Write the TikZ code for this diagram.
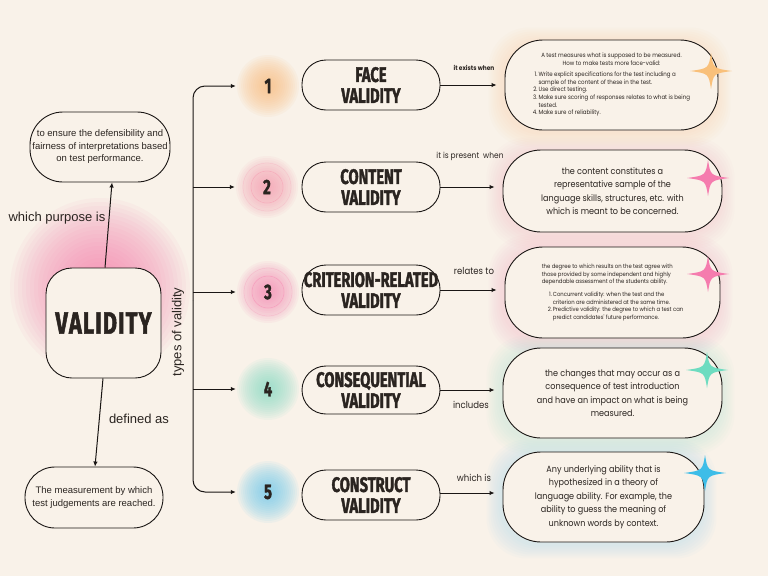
\documentclass[tikz,border=0pt]{standalone}
\usepackage{fontspec}
\setmainfont{Liberation Sans}
\newfontfamily\hfont[FakeStretch=0.7, BoldFeatures={FakeBold=1.6}]{Fira Sans}
\newfontfamily\rfont[FakeStretch=0.9]{Poppins}
\usetikzlibrary{arrows.meta}
\definecolor{bg}{HTML}{F9F2E9}
\definecolor{ink}{HTML}{1A1614}
\definecolor{txt}{HTML}{2A2420}
\definecolor{gor}{HTML}{F8BE7E}
\definecolor{gpk}{HTML}{F59AB0}
\definecolor{gpk3}{HTML}{F588B4}
\definecolor{gte}{HTML}{86DCC6}
\definecolor{gbl}{HTML}{6CCBEA}
\definecolor{gval}{HTML}{F57FAE}
\definecolor{sor}{HTML}{F9C07A}
\definecolor{spk}{HTML}{F57CAE}
\definecolor{ste}{HTML}{6EDCC0}
\definecolor{sbl}{HTML}{3DBDE8}
\pgfdeclarelayer{base}
\pgfdeclarelayer{glow}
\pgfsetlayers{base,glow,main}
\tikzset{
  box/.style={draw=ink, line width=0.9pt, fill=bg, align=center, inner sep=0pt, text=txt},
  lbox/.style={box, rounded corners=33pt, font=\fontsize{9.5}{12.5}\selectfont},
  tbox/.style={box, rounded corners=24pt, minimum width=138pt, minimum height=50pt,
    font=\hfont\bfseries\fontsize{21}{21}\selectfont},
  rbox/.style={box, rounded corners=38pt, font=\rfont\fontsize{9}{13.5}\selectfont},
  num/.style={circle, minimum size=64pt, inner sep=0pt, text=txt,
    font=\hfont\bfseries\fontsize{21}{21}\selectfont},
  lab/.style={text=txt, font=\fontsize{13}{13}\selectfont},
  rlab/.style={text=txt, font=\rfont\fontsize{9.5}{10}\selectfont},
  arr/.style={draw=ink, line width=1pt, -{Latex[length=5pt,width=4.5pt]}},
  sparkle/.pic={\fill (0,-18) .. controls (2.5,-2.5) .. (21,0) .. controls (2.5,2.5) .. (0,18)
     .. controls (-2.5,2.5) .. (-21,0) .. controls (-2.5,-2.5) .. cycle;}
}
\begin{document}
\begin{tikzpicture}[x=1pt,y=-1pt]
\begin{pgfonlayer}{base}
\fill[bg] (0,0) rectangle (768,576);
\end{pgfonlayer}
\useasboundingbox (0,0) rectangle (768,576);

% ---------- left part ----------
\coordinate (vglow) at (100,288);
\begin{pgfonlayer}{glow}
\foreach \r in {6,10,...,90} \fill[gval, opacity=0.06] (vglow) circle (\r);
\end{pgfonlayer}

\node[box, rounded corners=26pt, minimum width=115pt, minimum height=110pt,
  font=\hfont\bfseries\fontsize{31}{31}\selectfont] (val) at (103.5,323)
  {V\kern1.2pt A\kern1.2pt L\kern1.2pt I\kern1.2pt D\kern1.2pt I\kern1.2pt T\kern1.2pt Y};
\node[lbox, minimum width=140pt, minimum height=70pt] (purpose) at (100,147)
  {to ensure the defensibility and\\fairness of interpretations based\\on test performance.};
\node[lbox, minimum width=138pt, minimum height=61pt, rounded corners=30pt] (def) at (94,497.5)
  {The measurement by which\\test judgements are reached.};

\draw[arr] ([xshift=1.5pt]val.north) -- ([xshift=12pt]purpose.south);
\draw[arr] ([xshift=-0.5pt]val.south) -- ([xshift=1pt]def.north);
\node[lab] (lpurp) at (57,218) {which purpose is};
\node[lab] (ldef) at (139,419) {defined as};
\node[lab, rotate=90] (ltypes) at (178,332) {types of validity};

% ---------- number circles ----------
\coordinate (c1) at (268,86);
\coordinate (c2) at (267,187);
\coordinate (c3) at (268,292);
\coordinate (c4) at (268,389);
\coordinate (c5) at (268,492);
\begin{pgfonlayer}{glow}
\foreach \c/\col in {c1/gor,c2/gpk,c3/gpk3,c4/gte,c5/gbl}{
  \foreach \r in {3,5,...,31} \fill[\col, opacity=0.08] (\c) circle (\r);
}
\foreach \c/\col in {c2/gpk,c3/gpk3}{
  \draw[\col, line width=0.5pt, opacity=0.6] (\c) circle (16);
  \draw[\col, line width=0.4pt, opacity=0.35] (\c) circle (24);
}
\end{pgfonlayer}
\node[num] (n1) at (c1) {1};
\node[num] (n2) at (c2) {2};
\node[num] (n3) at (c3) {3};
\node[num] (n4) at (c4) {4};
\node[num] (n5) at (c5) {5};

\coordinate (trunk) at (193,300);
\draw[arr, rounded corners=12pt] (trunk) |- (n1.west);
\draw[arr, rounded corners=12pt] (trunk) |- (n5.west);
\draw[arr] (trunk |- n2) -- (n2.west);
\draw[arr] (trunk |- n3) -- (n3.west);
\draw[arr] (trunk |- n4) -- (n4.west);

% ---------- type boxes ----------
\node[tbox] (t1) at (371,85) {FACE\\VALIDITY};
\node[tbox] (t2) at (371,187) {CONTENT\\VALIDITY};
\node[tbox] (t3) at (371,290) {CRITERION-RELATED\\VALIDITY};
\node[tbox, minimum height=48pt] (t4) at (371,390) {CONSEQUENTIAL\\VALIDITY};
\node[tbox] (t5) at (371,495) {CONSTRUCT\\VALIDITY};

% ---------- right boxes ----------
\node[rbox, minimum width=213pt, minimum height=90pt, font=\rfont\fontsize{6.1}{7.6}\selectfont] (r1) at (611.5,85)
  {A test measures what is supposed to be measured.\\
   How to make tests more face-valid:\\[5pt]
   \begin{tabular}{@{}r@{\,}l@{}}
   1.&Write explicit specifications for the test including a\\
     &sample of the content of these in the test.\\
   2.&Use direct testing.\\
   3.&Make sure scoring of responses relates to what is being\\
     &tested.\\
   4.&Make sure of reliability.
   \end{tabular}};
\node[rbox, minimum width=219pt, minimum height=82pt] (r2) at (612.5,191)
  {the content constitutes a\\representative sample of the\\language skills, structures, etc. with\\which is meant to be concerned.};
\node[rbox, minimum width=215pt, minimum height=91pt, font=\rfont\fontsize{5.9}{7.6}\selectfont] (r3) at (612.5,292.5)
  {\begin{tabular}{@{}l@{}}
   the degree to which results on the test agree with\\
   those provided by some independent and highly\\
   dependable assessment of the students ability.\\[5pt]
   \hspace{6pt}\begin{tabular}{@{}r@{\,}l@{}}
   1.&Concurrent validity: when the test and the\\
     &criterion are administered at the same time.\\
   2.&Predictive validity: the degree to which a test can\\
     &predict candidates' future performance.
   \end{tabular}
   \end{tabular}};
\node[rbox, minimum width=219pt, minimum height=90pt] (r4) at (612.5,393)
  {the changes that may occur as a\\consequence of test introduction\\and have an impact on what is being\\measured.};
\node[rbox, minimum width=201pt, minimum height=90pt] (r5) at (603.5,497)
  {Any underlying ability that is\\hypothesized in a theory of\\language ability. For example, the\\ability to guess the meaning of\\unknown words by context.};

\begin{pgfonlayer}{glow}
\foreach \b/\col in {r1/gor,r2/gpk,r3/gpk3,r4/gte,r5/gbl}{
  \foreach \d in {2,4,...,14}
    \fill[\col, opacity=0.03, rounded corners=40pt]
      ([shift={(-\d-2,-\d+2)}]\b.north west) rectangle ([shift={(\d-2,\d+2)}]\b.south east);
}
\end{pgfonlayer}

\pic[color=sor] at (711,71) {sparkle};
\pic[color=spk] at (708,178) {sparkle};
\pic[color=spk] at (708,274) {sparkle};
\pic[color=ste] at (707,370) {sparkle};
\pic[color=sbl] at (705,473) {sparkle};

% ---------- connectors type -> description ----------
\draw[arr, shorten >=8pt] (t1.east) -- (t1.east -| r1.west);
\draw[arr, shorten >=8pt] (t2.east) -- (t2.east -| r2.west);
\draw[arr, shorten >=8pt] (t3.east) -- (t3.east -| r3.west);
\draw[arr, shorten >=8pt] (t4.east) -- (t4.east -| r4.west);
\draw[arr, shorten >=8pt] ([yshift=2pt]t5.east) -- ([yshift=2pt]t5.east -| r5.west);

\node[rlab, font=\rfont\bfseries\fontsize{6.5}{7}\selectfont] (l1) at (474,68) {it exists when};
\node[rlab, font=\rfont\fontsize{8.3}{9}\selectfont] (l2) at (470,156) {it is present\ \ when};
\node[rlab] (l3) at (474,271) {relates to};
\node[rlab] (l4) at (471,405) {includes};
\node[rlab] (l5) at (474,478) {which is};
\end{tikzpicture}
\end{document}
